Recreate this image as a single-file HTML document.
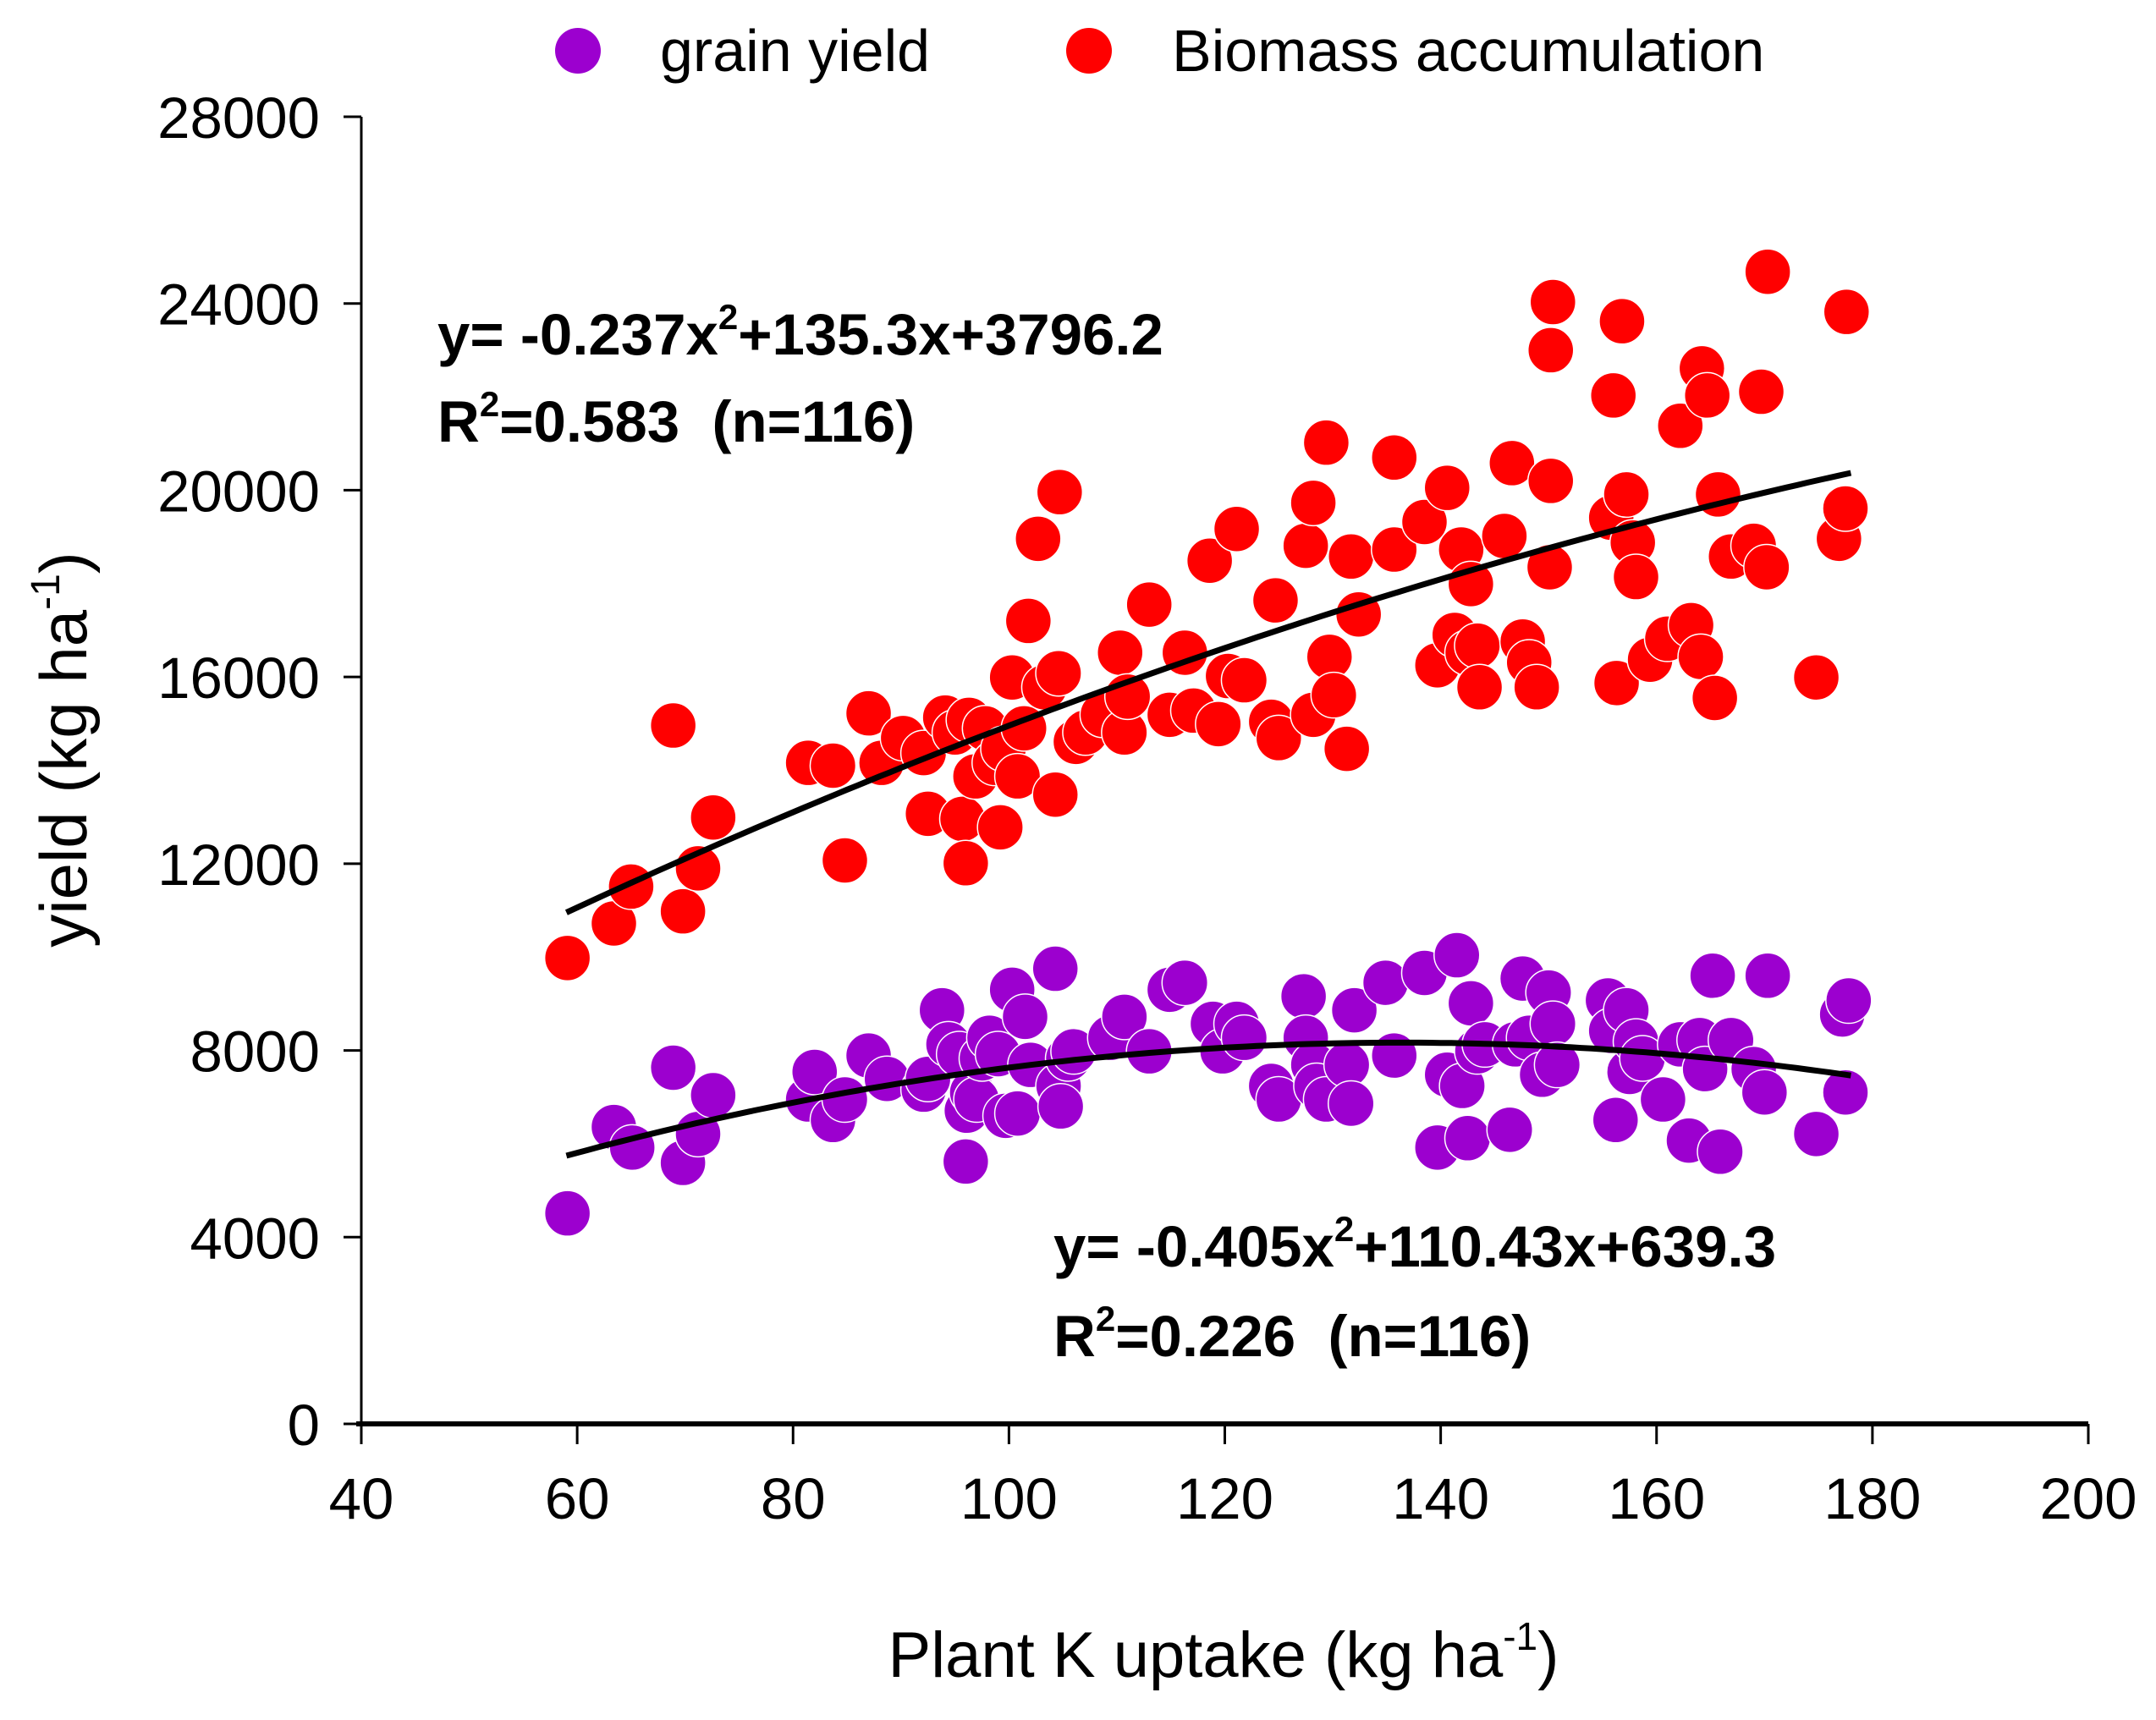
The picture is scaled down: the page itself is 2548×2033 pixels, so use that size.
<!DOCTYPE html>
<html><head><meta charset="utf-8"><style>
html,body{margin:0;padding:0;background:#fff;}
svg{display:block;font-family:"Liberation Sans",Arial,sans-serif;}
</style></head><body>
<svg id="chart" width="2548" height="2033" viewBox="0 0 2548 2033" xmlns="http://www.w3.org/2000/svg">
<rect width="2548" height="2033" fill="#fff"/>
<g id="axes"></g>
<g id="marks"></g>
<g id="fits"></g>
<g>
<circle cx="683" cy="60" r="27" fill="#9c00cf"/>
<text x="780" y="84" font-size="70">grain yield</text>
<circle cx="1287" cy="60" r="27" fill="#ff0000"/>
<text x="1385" y="84" font-size="70">Biomass accumulation</text>
</g>
<g font-weight="bold" font-size="69">
<text x="517" y="419">y= -0.237x<tspan dy="-30" font-size="42">2</tspan><tspan dy="30">+135.3x+3796.2</tspan></text>
<text x="517" y="522">R<tspan dy="-30" font-size="42">2</tspan><tspan dy="30">=0.583&#160;&#160;(n=116)</tspan></text>
<text x="1245" y="1497">y= -0.405x<tspan dy="-30" font-size="42">2</tspan><tspan dy="30">+110.43x+639.3</tspan></text>
<text x="1245" y="1603">R<tspan dy="-30" font-size="42">2</tspan><tspan dy="30">=0.226&#160;&#160;(n=116)</tspan></text>
</g>
<text x="1446" y="1982" font-size="76" text-anchor="middle">Plant K uptake (kg ha<tspan dy="-32" font-size="46">-1</tspan><tspan dy="32">)</tspan></text>
<text transform="translate(102,886) rotate(-90)" font-size="78" text-anchor="middle">yield (kg ha<tspan dy="-32" font-size="48">-1</tspan><tspan dy="32">)</tspan></text>
</svg>
<script>
const xTicks=[40,60,80,100,120,140,160,180,200];
const yTicks=[0,4000,8000,12000,16000,20000,24000,28000];
const bioX=[59.1,63.4,65,68.9,69.8,71.2,72.6,81.4,83.7,84.8,87,88.2,90.2,92.1,92.5,94.1,95,95.7,96,96.3,96.9,97.8,98.7,99.2,99.5,100.3,100.8,101.4,101.8,102.7,103.3,104.3,104.6,104.7,106.2,107.1,108.7,110.3,110.7,111,113,114.9,116.3,117.1,118.6,119.4,120.3,121.1,121.8,124.3,124.7,125,127.5,128.2,128.2,129.4,129.7,130.1,131.3,131.7,132.4,135.7,135.7,138.5,139.7,140.6,141.3,141.9,142.5,142.8,143.4,143.6,145.9,146.6,147.6,148.2,148.9,150.1,150.2,150.2,150.4,155.8,156,156.3,156.8,157.2,157.8,158.1,159.4,161,162.2,163.2,164.1,164.2,164.7,165.4,165.7,166.9,169,169.7,170.2,170.3,174.8,176.9,177.5,177.6];
const bioY=[9980,10720,11510,14960,10980,11900,12990,14160,14100,12070,15220,14160,14690,14370,13070,15130,14810,12960,12010,15080,13870,14900,14160,12780,14460,15990,13870,14900,17200,18960,15780,13480,16080,19960,14610,14810,15190,16520,14810,15580,17550,15190,16520,15280,18490,14990,16020,19170,15930,15040,17640,14690,18810,19730,15190,21020,16430,15610,14460,18580,17340,18730,20700,19320,16250,20050,16900,18730,16520,17990,16670,15780,19020,20580,16760,16310,15780,18350,20200,23000,24030,19410,22030,15870,23620,19910,18880,18140,16370,16820,21380,17110,16430,22610,22030,15550,19910,18580,18810,22110,18350,24680,15990,18960,19610,23820];
const grainX=[59.1,63.4,65.1,68.9,69.8,71.2,72.6,81.4,82,83.7,84.8,87,88.7,92.1,92.5,93.8,94.4,95.4,96,96.1,96.6,97,97.5,98.2,99,99.7,100.3,100.8,101.5,102,104.3,104.6,104.8,105.5,106,109.4,110.7,113,114.9,116.3,118.9,119.8,121.1,121.8,124.3,125,127.3,127.5,128.2,128.5,129.4,131.3,131.7,132,134.9,135.7,138.5,139.7,140.6,141.5,142,142.5,142.8,143.4,144.1,146.4,146.9,147.6,148.2,149.4,150,150.4,150.8,155.5,155.8,156.2,157.2,157.5,158.1,158.7,160.6,162.2,163,164,164.5,165.2,165.9,166.9,169,170,170.3,174.8,177.2,177.5,177.8];
const grainY=[4510,6360,5920,7630,5590,6210,7040,6950,7540,6510,6950,7890,7390,7160,7390,8860,8130,7920,5620,6710,7100,6950,7830,8270,7920,6600,9300,6650,8720,7690,9750,7240,6800,7830,7980,8270,8720,7980,9300,9450,8570,7980,8570,8270,7240,6950,9160,8270,7690,7240,6950,7690,6860,8860,9450,7890,9660,5920,7480,10040,7240,6120,9010,7980,8130,6300,8130,9540,8270,7480,9240,8570,7690,9070,8420,6510,8860,7540,8190,7830,6950,8130,6070,8220,7600,9600,5830,8220,7600,7100,9600,6210,8770,7100,9070];
const bioCoef=[-0.237,135.3,3796.2];
const grainCoef=[-0.405,110.43,639.3];
const fitRange=[59,178];

const NS="http://www.w3.org/2000/svg";
const X0=427,X1=2468,Y0=1683,Y1=138;
function sx(v){return X0+(v-40)/(200-40)*(X1-X0);}
function sy(v){return Y0-(v-0)/(28000-0)*(Y0-Y1);}
function mk(tag,attrs,parent){const e=document.createElementNS(NS,tag);for(const k in attrs)e.setAttribute(k,attrs[k]);parent.appendChild(e);return e;}
const axes=document.getElementById('axes');
let l=mk('line',{x1:X0,y1:Y1,x2:X0,y2:Y0,stroke:'#000','stroke-width':3},axes);


l=mk('line',{x1:X0-6,y1:Y0,x2:X1,y2:Y0,stroke:'#000','stroke-width':6},axes);


yTicks.forEach(v=>{
  const t=mk('line',{x1:X0-21,y1:sy(v),x2:X0,y2:sy(v),stroke:'#000','stroke-width':3},axes);
  
  
  const tx=mk('text',{x:378,y:sy(v)+25,'font-size':69,'text-anchor':'end'},axes);
  tx.textContent=v;
  
  
});
xTicks.forEach(v=>{
  const t=mk('line',{x1:sx(v),y1:Y0,x2:sx(v),y2:Y0+24,stroke:'#000','stroke-width':3},axes);
  
  
  const tx=mk('text',{x:sx(v),y:1795,'font-size':69,'text-anchor':'middle'},axes);
  tx.textContent=v;
  
  
});
const marks=document.getElementById('marks');
grainX.forEach((x,i)=>{
  const c=mk('circle',{cx:sx(x),cy:sy(grainY[i]),r:27,fill:'#9c00cf',stroke:'#fff','stroke-width':1.5},marks);
  
  
});
bioX.forEach((x,i)=>{
  const c=mk('circle',{cx:sx(x),cy:sy(bioY[i]),r:27,fill:'#ff0000',stroke:'#fff','stroke-width':1.5},marks);
  
  
});
const fits=document.getElementById('fits');
function curve(c,name){
  let d='';
  for(let x=fitRange[0];x<=fitRange[1]+0.001;x+=1){
    const y=c[0]*x*x+c[1]*x+c[2];
    d+=(d?'L':'M')+sx(x).toFixed(1)+','+sy(y).toFixed(1);
  }
  const p=mk('path',{d:d,fill:'none',stroke:'#000','stroke-width':7},fits);
  
  
}
curve(bioCoef,'biomass-fit-curve');
curve(grainCoef,'grain-fit-curve');
</script>
</body></html>
